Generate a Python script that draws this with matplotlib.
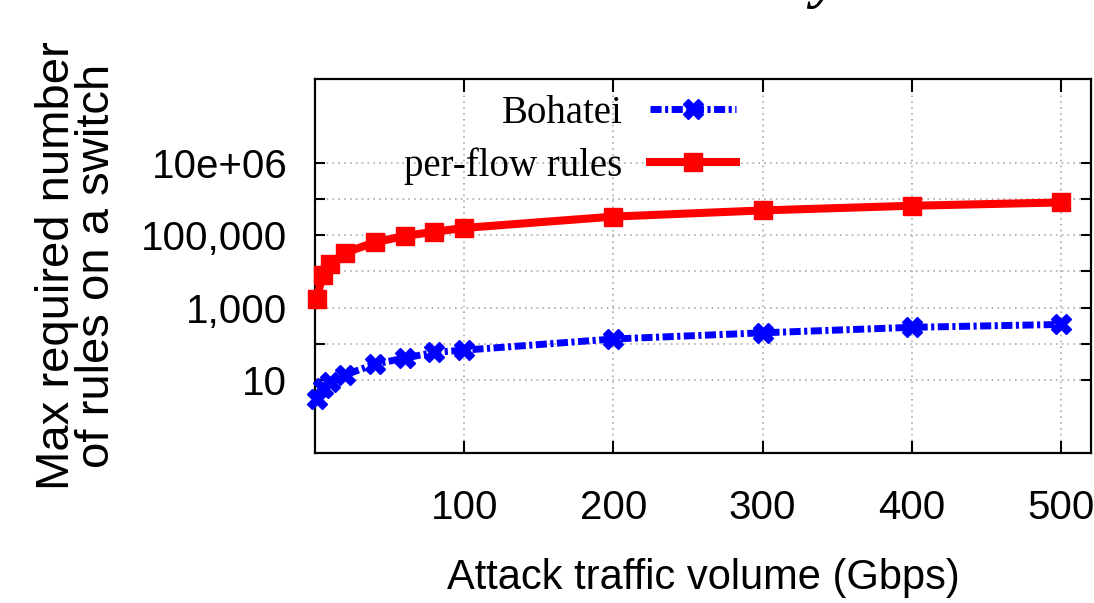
import matplotlib
matplotlib.use('Agg')
import matplotlib.pyplot as plt
from matplotlib.ticker import FixedLocator, FixedFormatter, NullLocator

# data
gbps = [1, 5, 10, 20, 40, 60, 80, 100, 200, 300, 400, 500]
bohatei = [3, 6, 9, 14, 28, 41, 59, 68, 138, 204, 289, 347]
perflow = [1700, 7900, 16000, 33000, 63000, 95000, 124000, 158000,
           324000, 480000, 645000, 795000]

xticks = [100, 200, 300, 400, 500]
yticks = [10, 100, 1000, 10000, 100000, 1000000, 10000000]
ylabels = ['10', '', '1,000', '', '100,000', '', '10e+06']

sans = ['Liberation Sans', 'DejaVu Sans']

fig = plt.figure(figsize=(10.94, 6.03), dpi=100)
ax = fig.add_axes([0.288, 0.2488, 0.709, 0.6202])

ax.plot(gbps, bohatei, color='#0000ff', lw=5, ls=(0, (1.6, 0.5, 0.45, 0.5)),
        marker='X', ms=15, mec='#0000ff', mfc='#0000ff', clip_on=False,
        label='Bohatei', zorder=3)
ax.plot(gbps, perflow, color='#ff0000', lw=5.8, ls='-',
        marker='s', ms=13, mec='#ff0000', mfc='#ff0000', clip_on=False,
        label='per-flow rules', zorder=3)

ax.set_yscale('log')
ax.set_xlim(0, 520)
ax.set_ylim(0.1, 2e9)

ax.xaxis.set_major_locator(FixedLocator(xticks))
ax.xaxis.set_minor_locator(NullLocator())
ax.yaxis.set_major_locator(FixedLocator(yticks))
ax.yaxis.set_major_formatter(FixedFormatter(ylabels))
ax.yaxis.set_minor_locator(NullLocator())

ax.grid(True, color='#aaaaaa', ls=(0, (1, 2.5)), lw=1.2)
ax.tick_params(axis='both', which='major', direction='in', top=True, right=True,
               width=1.5)
ax.tick_params(axis='x', length=9, pad=26)
ax.tick_params(axis='y', length=7, pad=20)
for s in ax.spines.values():
    s.set_linewidth(1.6)

for lab in ax.get_xticklabels() + ax.get_yticklabels():
    lab.set_family(sans)
    lab.set_fontsize(29)

ax.set_xlabel('Attack traffic volume (Gbps)', family=sans, fontsize=30,
              labelpad=22)
ax.set_ylabel('Max required number\nof rules on a switch',
              family=sans, fontsize=34,
              linespacing=0.88, multialignment='center')
ax.yaxis.set_label_coords(-0.253, 0.5)

leg = ax.legend(loc='center', bbox_to_anchor=(570 / 1094, 1 - 140 / 603),
                bbox_transform=fig.transFigure, frameon=False, markerfirst=False,
                prop={'family': 'Liberation Serif', 'size': 28},
                handlelength=2.2, handletextpad=0.7, labelspacing=0.4,
                borderpad=0)

# descender of the cropped title above the chart
fig.text(826 / 1094, 1.006, 'y', family='Liberation Serif', style='italic',
         weight='bold', fontsize=44, ha='center', va='baseline')

fig.savefig('out.png', dpi=100)
